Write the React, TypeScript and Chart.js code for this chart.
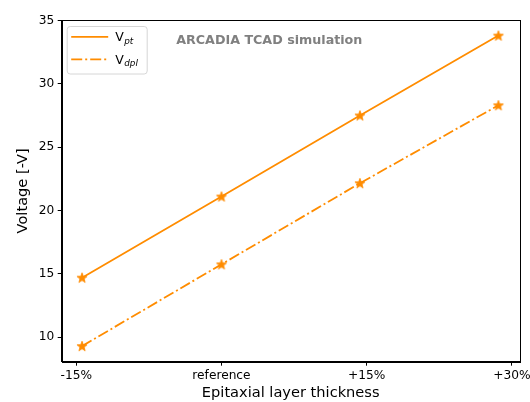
import React, { useEffect, useRef } from "react";
import { Chart, registerables } from "chart.js";

Chart.register(...registerables);

// ---- data ----
const xTickValues = [-15, 0, 15, 30];
const xTickLabels = ["-15%", "reference", "+15%", "+30%"];
const xPositions = [-14.4, 0, 14.3, 28.6];
const vPt = [14.7, 21.1, 27.5, 33.8];
const vDpl = [9.3, 15.75, 22.15, 28.3];
const yTickValues = [10, 15, 20, 25, 30, 35];
const seriesNames = [
  { main: "V", sub: "pt" },
  { main: "V", sub: "dpl" },
];
const annotationText = "ARCADIA TCAD simulation";
const xTitle = "Epitaxial layer thickness";
const yTitle = "Voltage [-V]";

const ORANGE = "#ff8c00";
const FONT = "'DejaVu Sans', sans-serif";
const DASH = [11, 3, 2, 3];

function makeStar(): HTMLCanvasElement {
  const c = document.createElement("canvas");
  const s = 14;
  c.width = s;
  c.height = s;
  const ctx = c.getContext("2d")!;
  const cx = s / 2;
  const cy = s / 2 + 0.4;
  const R = 5.3;
  const r = R * 0.42;
  ctx.beginPath();
  for (let i = 0; i < 10; i++) {
    const ang = -Math.PI / 2 + (i * Math.PI) / 5;
    const rad = i % 2 === 0 ? R : r;
    const px = cx + rad * Math.cos(ang);
    const py = cy + rad * Math.sin(ang);
    if (i === 0) ctx.moveTo(px, py);
    else ctx.lineTo(px, py);
  }
  ctx.closePath();
  ctx.fillStyle = ORANGE;
  ctx.fill();
  ctx.strokeStyle = ORANGE;
  ctx.lineWidth = 0.8;
  ctx.lineJoin = "round";
  ctx.stroke();
  return c;
}

const decorPlugin = {
  id: "decor",
  beforeDatasetsDraw(chart: any) {
    const { ctx, chartArea: a } = chart;
    ctx.save();
    ctx.strokeStyle = "#000";
    ctx.lineWidth = 1;
    ctx.strokeRect(Math.round(a.left) + 0.5, Math.round(a.top) + 0.5, Math.round(a.right - a.left), Math.round(a.bottom - a.top));
    ctx.restore();
  },
  afterDraw(chart: any) {
    const { ctx, chartArea: a } = chart;
    const w = a.right - a.left;
    ctx.save();
    // annotation text
    ctx.font = `bold 12.7px ${FONT}`;
    ctx.fillStyle = "#808080";
    ctx.textAlign = "left";
    ctx.textBaseline = "middle";
    ctx.fillText(annotationText, a.left + 0.25 * w, a.top + 21);

    // legend
    const lx = a.left + 5.5;
    const ly = a.top + 6.5;
    const lw = 80;
    const lh = 47.5;
    const rad = 3;
    ctx.beginPath();
    ctx.moveTo(lx + rad, ly);
    ctx.lineTo(lx + lw - rad, ly);
    ctx.quadraticCurveTo(lx + lw, ly, lx + lw, ly + rad);
    ctx.lineTo(lx + lw, ly + lh - rad);
    ctx.quadraticCurveTo(lx + lw, ly + lh, lx + lw - rad, ly + lh);
    ctx.lineTo(lx + rad, ly + lh);
    ctx.quadraticCurveTo(lx, ly + lh, lx, ly + lh - rad);
    ctx.lineTo(lx, ly + rad);
    ctx.quadraticCurveTo(lx, ly, lx + rad, ly);
    ctx.closePath();
    ctx.fillStyle = "rgba(255,255,255,0.8)";
    ctx.fill();
    ctx.strokeStyle = "#d6d6d6";
    ctx.lineWidth = 1;
    ctx.stroke();

    seriesNames.forEach((s, i) => {
      const y = ly + 10.3 + i * 22.6;
      ctx.beginPath();
      ctx.strokeStyle = ORANGE;
      ctx.lineWidth = 1.8;
      ctx.setLineDash(i === 0 ? [] : DASH);
      ctx.moveTo(lx + 4, y);
      ctx.lineTo(lx + 41, y);
      ctx.stroke();
      ctx.setLineDash([]);
      ctx.fillStyle = "#000";
      ctx.textAlign = "left";
      ctx.textBaseline = "alphabetic";
      ctx.font = `12.5px ${FONT}`;
      const tx = lx + 48;
      const base = y + 4.5;
      ctx.fillText(s.main, tx, base);
      const mw = ctx.measureText(s.main).width;
      ctx.font = `italic 8.8px ${FONT}`;
      ctx.fillText(s.sub, tx + mw + 0.5, base + 2.2);
    });
    ctx.restore();
  },
};

export default function App() {
  const ref = useRef<HTMLCanvasElement | null>(null);
  useEffect(() => {
    document.body.style.margin = "0";
    const star = makeStar();
    const chart = new Chart(ref.current!, {
      type: "line",
      data: {
        datasets: [
          {
            label: "Vpt",
            data: xPositions.map((x, i) => ({ x, y: vPt[i] })),
            borderColor: ORANGE,
            backgroundColor: ORANGE,
            borderWidth: 1.8,
            pointStyle: star as any,
            pointRadius: 6,
            tension: 0,
            fill: false,
          },
          {
            label: "Vdpl",
            data: xPositions.map((x, i) => ({ x, y: vDpl[i] })),
            borderColor: ORANGE,
            backgroundColor: ORANGE,
            borderWidth: 1.8,
            borderDash: DASH,
            pointStyle: star as any,
            pointRadius: 6,
            tension: 0,
            fill: false,
          },
        ],
      },
      options: {
        animation: false,
        responsive: false,
        devicePixelRatio: 1,
        layout: { padding: { top: 20, right: 10.3, left: 0, bottom: 0 } },
        plugins: { legend: { display: false }, tooltip: { enabled: false } },
        scales: {
          x: {
            type: "linear",
            min: -16.5,
            max: 30.8,
            afterBuildTicks: (s: any) => {
              s.ticks = xTickValues.map((v) => ({ value: v }));
            },
            afterFit: (s: any) => {
              s.height = 40.3;
              s.paddingLeft = 0;
              s.paddingRight = 0;
            },
            ticks: {
              autoSkip: false,
              maxRotation: 0,
              padding: 3,
              color: "#000",
              font: { family: FONT, size: 12.2 },
              callback: (v: any) => {
                const i = xTickValues.indexOf(Number(v));
                return i >= 0 ? xTickLabels[i] : "";
              },
            },
            grid: { drawOnChartArea: false, drawTicks: true, tickLength: 4, color: "#000", lineWidth: 1 },
            border: { display: true, color: "#000", width: 1 },
            title: {
              display: true,
              text: xTitle,
              color: "#000",
              font: { family: FONT, size: 14.6 },
              padding: { top: 0, bottom: 0 },
            },
          },
          y: {
            type: "linear",
            min: 8.07,
            max: 35.03,
            afterBuildTicks: (s: any) => {
              s.ticks = yTickValues.map((v) => ({ value: v }));
            },
            afterFit: (s: any) => {
              s.width = 61.7;
              s.paddingTop = 0;
              s.paddingBottom = 0;
            },
            ticks: {
              padding: 3.4,
              color: "#000",
              font: { family: FONT, size: 12.2 },
            },
            grid: { drawOnChartArea: false, drawTicks: true, tickLength: 4, color: "#000", lineWidth: 1 },
            border: { display: true, color: "#000", width: 1 },
            title: {
              display: true,
              text: yTitle,
              color: "#000",
              font: { family: FONT, size: 14.6 },
              padding: { top: 14, bottom: 0 },
            },
          },
        },
      },
      plugins: [decorPlugin],
    });
    return () => chart.destroy();
  }, []);
  return (
    <div style={{ position: "absolute", left: 0, top: 0, width: 530, height: 402 }}>
      <canvas ref={ref} width={530} height={402} />
    </div>
  );
}
